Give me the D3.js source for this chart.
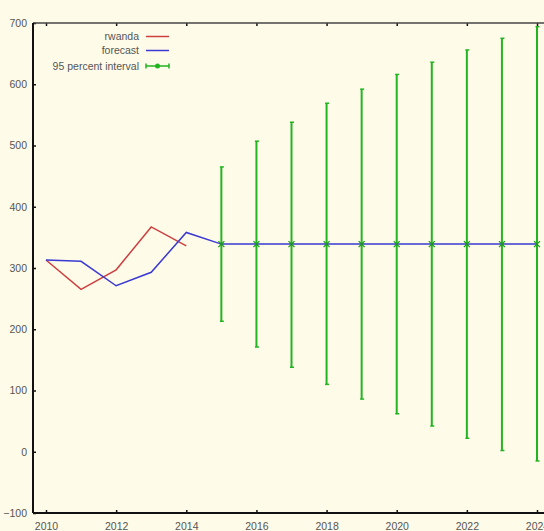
<!DOCTYPE html>
<html>
<head>
<meta charset="utf-8">
<script src="https://cdn.jsdelivr.net/npm/d3@7"></script>
<style>
  html, body { margin: 0; padding: 0; background: #fffbe9; }
  svg { display: block; }
  text { font-family: "Liberation Sans", Arial, sans-serif; fill: #555; }
</style>
</head>
<body>
<svg id="chart" width="544" height="531"></svg>
<script>
// Observed series (rwanda) and fitted/forecast series
const actualYears = [2010, 2011, 2012, 2013, 2014];
const actualValues = [313, 265, 297, 367, 336];

const forecastYears = [2010, 2011, 2012, 2013, 2014, 2015, 2016, 2017, 2018, 2019, 2020, 2021, 2022, 2023, 2024];
const forecastValues = [313, 311, 271, 293, 358, 339, 339, 339, 339, 339, 339, 339, 339, 339, 339];

// 95 percent interval around the out-of-sample forecasts
const intervalYears = [2015, 2016, 2017, 2018, 2019, 2020, 2021, 2022, 2023, 2024];
const intervalLower = [213, 171, 138, 110, 86, 62, 42, 22, 2, -15];
const intervalUpper = [465, 507, 538, 569, 592, 616, 636, 656, 675, 694];

const xTicks = [2010, 2012, 2014, 2016, 2018, 2020, 2022, 2024];
const yTicks = [-100, 0, 100, 200, 300, 400, 500, 600, 700];

const legendLabels = ["rwanda", "forecast", "95 percent interval"];

const colors = { actual: "#cc4040", forecast: "#3a3ad2", interval: "#22b522", axis: "#111" };

const svg = d3.select("#chart");
const W = 544, H = 531;
const mLeft = 33, mTop = 23, mBottom = 513;

const x = d3.scaleLinear().domain([2010, 2024]).range([46, 537]);
const y = d3.scaleLinear().domain([-100, 700]).range([mBottom, mTop]);

const plotRight = W + 20;

// Frame: bottom, top and left axes with inward ticks
const gBottom = svg.append("g").attr("transform", `translate(0,${mBottom})`);
gBottom.call(d3.axisBottom(x).tickValues(xTicks).tickFormat(d3.format("d")).tickSize(-3).tickPadding(10));
const gTop = svg.append("g").attr("transform", `translate(0,${mTop})`);
gTop.call(d3.axisTop(x).tickValues(xTicks).tickFormat("").tickSize(-3));
const gLeft = svg.append("g").attr("transform", `translate(${mLeft},0)`);
gLeft.call(d3.axisLeft(y).tickValues(yTicks).tickFormat(d3.format("d")).tickSize(-3).tickPadding(6));

[gBottom, gTop, gLeft].forEach(g => {
  g.select(".domain").remove();
  g.selectAll(".tick line").attr("stroke", colors.axis).attr("stroke-width", 1.5);
  g.selectAll(".tick text").style("font-size", "10.5px").attr("fill", "#555");
});

svg.append("line").attr("x1", mLeft).attr("x2", plotRight).attr("y1", mBottom).attr("y2", mBottom)
  .attr("stroke", colors.axis).attr("stroke-width", 2);
svg.append("line").attr("x1", mLeft).attr("x2", plotRight).attr("y1", mTop).attr("y2", mTop)
  .attr("stroke", "#444").attr("stroke-width", 1.5);
svg.append("line").attr("x1", mLeft).attr("x2", mLeft).attr("y1", mTop).attr("y2", mBottom)
  .attr("stroke", colors.axis).attr("stroke-width", 2);

// Interval bars with small caps
const gInt = svg.append("g");
intervalYears.forEach((yr, i) => {
  const cx = x(yr);
  gInt.append("line").attr("x1", cx).attr("x2", cx)
    .attr("y1", y(intervalLower[i])).attr("y2", y(intervalUpper[i]))
    .attr("stroke", colors.interval).attr("stroke-width", 2);
  [intervalLower[i], intervalUpper[i]].forEach(v => {
    gInt.append("line").attr("x1", cx - 1.5).attr("x2", cx + 2.5)
      .attr("y1", y(v)).attr("y2", y(v))
      .attr("stroke", colors.interval).attr("stroke-width", 1.5);
  });
});

const line = d3.line().x(d => x(d[0])).y(d => y(d[1]));

svg.append("path")
  .datum(actualYears.map((yr, i) => [yr, actualValues[i]]))
  .attr("d", line).attr("fill", "none")
  .attr("stroke", colors.actual).attr("stroke-width", 1.5);

svg.append("path")
  .datum(forecastYears.map((yr, i) => [yr, forecastValues[i]]))
  .attr("d", line).attr("fill", "none")
  .attr("stroke", colors.forecast).attr("stroke-width", 1.5);

// Point markers at the forecast centre of each interval
intervalYears.forEach((yr, i) => {
  const v = forecastValues[forecastYears.indexOf(yr)];
  const cx = x(yr), cy = y(v);
  svg.append("path")
    .attr("d", `M${cx - 3},${cy - 3}L${cx + 3},${cy + 3}M${cx - 3},${cy + 3}L${cx + 3},${cy - 3}`)
    .attr("stroke", "#169a16").attr("stroke-width", 1.2);
});

// Legend
const legendY = [36.5, 50.5, 66];
const legend = svg.append("g");
legendLabels.forEach((lab, i) => {
  legend.append("text").attr("x", 139).attr("y", legendY[i]).attr("dy", "0.35em")
    .attr("text-anchor", "end").style("font-size", "10.5px").attr("fill", "#555").text(lab);
});
legend.append("line").attr("x1", 146).attr("x2", 169).attr("y1", legendY[0]).attr("y2", legendY[0])
  .attr("stroke", colors.actual).attr("stroke-width", 1.5);
legend.append("line").attr("x1", 146).attr("x2", 169).attr("y1", legendY[1]).attr("y2", legendY[1])
  .attr("stroke", colors.forecast).attr("stroke-width", 1.5);
legend.append("line").attr("x1", 146).attr("x2", 169).attr("y1", legendY[2]).attr("y2", legendY[2])
  .attr("stroke", colors.interval).attr("stroke-width", 1.5);
[146, 169].forEach(cx => {
  legend.append("line").attr("x1", cx).attr("x2", cx).attr("y1", legendY[2] - 2.5).attr("y2", legendY[2] + 2.5)
    .attr("stroke", colors.interval).attr("stroke-width", 1.5);
});
legend.append("circle").attr("cx", 157.5).attr("cy", legendY[2]).attr("r", 2.5).attr("fill", colors.interval);
</script>
</body>
</html>
